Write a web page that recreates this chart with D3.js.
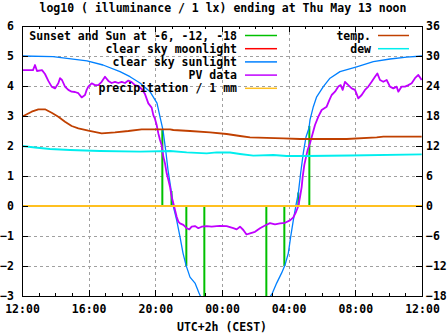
<!DOCTYPE html>
<html><head><meta charset="utf-8">
<script src="https://cdn.jsdelivr.net/npm/d3@7"></script>
<style>
body{margin:0;background:#fff}
svg{display:block}
text{font-family:"DejaVu Sans Mono","Liberation Mono",monospace;font-weight:bold;font-size:11.5px;fill:#000}
</style>
</head><body><svg id="c" width="447" height="335"></svg>
<script>
// ---- data (hours after 12:00 on Wed May 12) ----
const titleText = "log10 ( illuminance / 1 lx) ending at Thu May 13 noon";
const xLabel = "UTC+2h (CEST)";
const yTicks = [-3,-2,-1,0,1,2,3,4,5,6];
const y2Ticks = [-18,-12,-6,0,6,12,18,24,30,36];

const twilightHours  = [8.42, 8.97, 9.86, 10.94, 14.66, 15.74, 16.58, 17.24];
const twilightValues = [2.53, 0.5, -2.0, -3.5, -3.5, -2.0, 0.45, 2.67];

const moonHours = [];
const moonValues = [];

const sunHours  = [0,1.86,3.9,4.86,5.88,6.48,7.08,7.68,8.1,8.28,8.46,8.64,8.76,8.92,9.06,9.28,9.48,9.66,9.84,10.08,10.38,10.62,10.8,
                   null,
                   14.88,15.02,15.28,15.58,15.78,15.98,16.12,16.28,16.44,16.58,16.72,16.88,17.04,17.22,17.28,17.48,17.68,18.08,18.48,19.08,20.08,21.08,22.08,23.08,24];
const sunValues = [5.0,4.98,4.84,4.7,4.48,4.31,4.1,3.81,3.43,2.97,2.53,1.77,1.2,0.63,0.03,-0.47,-1.03,-1.57,-1.97,-2.37,-2.57,-2.9,-3.13,
                   null,
                   -3.03,-2.91,-2.57,-2.23,-1.97,-1.57,-1.03,-0.47,0.03,0.43,1.1,1.77,2.3,2.6,2.87,3.31,3.64,3.98,4.26,4.48,4.64,4.81,4.9,4.96,5.0];

const pvHours = [0,0.66,0.78,0.9,1.2,1.38,1.58,1.78,1.98,2.18,
  2.28,2.4,2.58,2.78,2.98,3.18,3.38,3.58,3.78,3.88,
  3.98,4.18,4.38,4.58,4.78,4.98,5.18,5.38,5.58,5.78,
  5.98,6.18,6.38,6.58,6.78,6.98,7.18,7.38,7.58,7.78,
  7.88,7.98,8.08,8.18,8.28,8.38,8.48,8.58,8.68,8.78,
  8.88,8.98,9.08,9.18,9.28,9.38,9.48,9.68,9.88,10.04,
  10.18,10.38,10.58,10.78,11.08,11.38,11.68,11.88,12.28,12.68,
  12.88,13.08,13.28,13.47,13.68,13.98,14.28,14.58,14.88,15.18,
  15.48,15.78,16.08,16.28,16.44,16.58,16.68,16.78,16.84,16.94,
  17.04,17.14,17.28,17.44,17.58,17.78,17.98,18.28,18.44,18.58,
  18.78,18.98,19.12,19.24,19.38,19.58,19.78,19.98,20.18,20.38,
  20.58,20.78,20.98,21.18,21.32,21.48,21.68,21.88,22.08,22.28,
  22.48,22.58,22.78,22.98,23.18,23.38,23.58,23.78,23.98];
const pvValues = [4.53,4.53,4.7,4.5,4.53,4.4,4.17,3.98,3.92,4.09,
  4.26,4.2,3.98,3.87,3.81,3.8,3.76,3.62,3.7,3.87,
  3.98,4.09,4.03,4.03,4.14,4.31,4.17,4.1,4.14,4.1,
  4.14,4.1,4.18,4.13,4.03,4.0,3.9,3.73,3.42,3.28,
  3.03,2.9,2.7,2.42,2.2,2.03,1.64,1.42,1.09,0.87,
  0.64,0.31,0.09,-0.13,-0.36,-0.52,-0.58,-0.63,-0.74,-0.78,
  -0.69,-0.67,-0.74,-0.69,-0.67,-0.69,-0.67,-0.66,-0.67,-0.74,
  -0.78,-0.69,-0.8,-0.95,-0.91,-0.86,-0.74,-0.65,-0.57,-0.61,
  -0.58,-0.56,-0.48,-0.38,-0.2,0,0.3,0.63,0.97,1.37,
  1.63,1.87,2.09,2.42,2.7,2.98,3.2,3.31,3.53,3.7,
  3.81,3.98,4.03,3.87,4.14,4.03,3.92,3.87,3.59,3.7,
  3.87,3.98,4.14,4.31,4.42,4.2,4.14,4.2,3.98,3.92,
  3.98,3.81,3.98,3.98,4.03,4.09,4.26,4.37,4.2];

const precipHours  = [0, 24];
const precipValues = [0, 0];

const tempHours  = [0,0.58,0.98,1.38,1.78,2.18,2.58,2.98,3.38,3.98,4.78,5.58,6.38,7.18,7.98,8.88,9.08,10.08,11.28,12.28,13.08,13.68,15.68,16.68,17.88,19.48,21.28,21.68,23.98];
const tempValues = [17.86,18.86,19.34,19.34,18.66,17.86,16.86,16.0,15.54,15.06,14.54,14.74,15.0,15.34,15.34,15.34,15.2,15.0,14.74,14.4,14.0,13.74,13.54,13.4,13.4,13.4,13.74,13.86,13.86];

const dewHours  = [0,0.78,1.68,2.88,4.68,7.08,8.88,9.88,11.08,11.68,12.48,13.08,13.88,15.08,15.88,17.08,19.68,23.98];
const dewValues = [12.0,11.7,11.4,11.2,11.0,10.86,11.0,10.74,10.54,10.74,10.7,10.4,10.06,10.2,10.0,10.0,10.1,10.34];

const legendLeft  = ["Sunset and Sun at -6, -12, -18","clear sky moonlight","clear sky sunlight","PV data","precipitation / 1 mm"];
const legendRight = ["temp.","dew"];

// ---- styles ----
const C = {green:"#00c000", red:"#ff0000", blue:"#0080ff", purple:"#c000ff", orange:"#ffc020", brown:"#c04000", cyan:"#00eeee"};
const leftColors  = [C.green, C.red, C.blue, C.purple, C.orange];
const rightColors = [C.brown, C.cyan];

// ---- scales ----
const L=22, R=422, T=26, B=296;
const t0 = new Date(2021,4,12,12,0,0);
const toDate = h => new Date(t0.getTime() + h*3600e3);
const x  = d3.scaleTime().domain([t0, toDate(24)]).range([L, R]);
const y  = d3.scaleLinear().domain([-3, 6]).range([B, T]);
const y2 = d3.scaleLinear().domain([-18, 36]).range([B, T]);

const svg = d3.select("#c");
svg.append("rect").attr("width",447).attr("height",335).attr("fill","#fff");

svg.append("defs").append("clipPath").attr("id","plot")
  .append("rect").attr("x",L).attr("y",T).attr("width",R-L).attr("height",B-T);

const majorX = d3.timeHour.every(4).range(t0, toDate(24.01));
const minorX = d3.timeHour.every(1).range(t0, toDate(24.01));

// grid
const grid = svg.append("g").attr("stroke","#a0a0a0").attr("stroke-width",1)
  .attr("stroke-dasharray","3,3").attr("shape-rendering","crispEdges");
grid.selectAll("line.h").data(yTicks.filter(v=>v>-3&&v<6)).join("line")
  .attr("x1",L).attr("x2",R).attr("y1",d=>Math.round(y(d))+0.5).attr("y2",d=>Math.round(y(d))+0.5);
grid.selectAll("line.v").data(majorX.filter((d,i)=>i>0&&i<majorX.length-1)).join("line")
  .attr("y1",T).attr("y2",B).attr("x1",d=>Math.round(x(d))+0.5).attr("x2",d=>Math.round(x(d))+0.5);

// data layers
const plot = svg.append("g").attr("clip-path","url(#plot)");
function series(hours, values, scale, color, width){
  const pts = hours.map((h,i)=>[h, values[i]]);
  const line = d3.line().defined(d=>d[0]!==null && d[1]!==null)
    .x(d=>x(toDate(d[0]))).y(d=>scale(d[1]));
  plot.append("path").datum(pts).attr("d",line).attr("fill","none")
    .attr("stroke",color).attr("stroke-width",width).attr("stroke-linejoin","round");
}
// impulses
plot.selectAll("line.imp").data(twilightHours.map((h,i)=>[h,twilightValues[i]])).join("line")
  .attr("x1",d=>x(toDate(d[0]))).attr("x2",d=>x(toDate(d[0])))
  .attr("y1",y(0)).attr("y2",d=>y(d[1]))
  .attr("stroke",C.green).attr("stroke-width",2);
series(moonHours, moonValues, y, C.red, 1.5);
series(sunHours, sunValues, y, C.blue, 1.3);
series(pvHours, pvValues, y, C.purple, 1.8);
series(precipHours, precipValues, y, C.orange, 2);
series(tempHours, tempValues, y2, C.brown, 1.8);
series(dewHours, dewValues, y2, C.cyan, 1.8);

// axes
function styleAxis(g){ g.select(".domain").remove(); g.selectAll("line").attr("stroke","#000").attr("shape-rendering","crispEdges");
  g.selectAll("text").attr("font-family",null).attr("font-size",null); g.attr("font-family",null).attr("font-size",null); }
svg.append("g").attr("transform",`translate(0,${B})`)
  .call(d3.axisBottom(x).tickValues(majorX).tickFormat(d3.timeFormat("%H:%M")).tickSizeInner(-6).tickSizeOuter(0).tickPadding(9))
  .call(styleAxis);
svg.append("g").attr("transform",`translate(0,${B})`)
  .call(d3.axisBottom(x).tickValues(minorX).tickFormat("").tickSizeInner(-3).tickSizeOuter(0)).call(styleAxis);
svg.append("g").attr("transform",`translate(0,${T})`)
  .call(d3.axisTop(x).tickValues(majorX).tickFormat("").tickSizeInner(-6).tickSizeOuter(0)).call(styleAxis);
svg.append("g").attr("transform",`translate(0,${T})`)
  .call(d3.axisTop(x).tickValues(minorX).tickFormat("").tickSizeInner(-3).tickSizeOuter(0)).call(styleAxis);
svg.append("g").attr("transform",`translate(${L},0)`)
  .call(d3.axisLeft(y).tickValues(yTicks).tickFormat(d3.format("d")).tickSizeInner(-6).tickSizeOuter(0).tickPadding(8))
  .call(styleAxis);
svg.append("g").attr("transform",`translate(${R},0)`)
  .call(d3.axisRight(y2).tickValues(y2Ticks).tickFormat(d3.format("d")).tickSizeInner(-6).tickSizeOuter(0).tickPadding(4))
  .call(styleAxis);

// frame
svg.append("rect").attr("x",L+0.5).attr("y",T+0.5).attr("width",R-L).attr("height",B-T)
  .attr("fill","none").attr("stroke","#000").attr("stroke-width",1).attr("shape-rendering","crispEdges");

// legend
const lg = svg.append("g");
legendLeft.forEach((t,i)=>{
  const yy = 35.5 + i*13.2;
  lg.append("text").attr("x",237).attr("y",yy).attr("dy","0.35em").attr("text-anchor","end").text(t);
  lg.append("line").attr("x1",245).attr("x2",277).attr("y1",yy).attr("y2",yy).attr("stroke",leftColors[i]).attr("stroke-width",1.5);
});
legendRight.forEach((t,i)=>{
  const yy = 35.5 + i*13.2;
  lg.append("text").attr("x",371).attr("y",yy).attr("dy","0.35em").attr("text-anchor","end").text(t);
  lg.append("line").attr("x1",378).attr("x2",409).attr("y1",yy).attr("y2",yy).attr("stroke",rightColors[i]).attr("stroke-width",1.5);
});

// titles
svg.append("text").attr("x",223).attr("y",12).attr("text-anchor","middle").text(titleText);
svg.append("text").attr("x",222).attr("y",331).attr("text-anchor","middle").text(xLabel);
</script>
</body></html>
